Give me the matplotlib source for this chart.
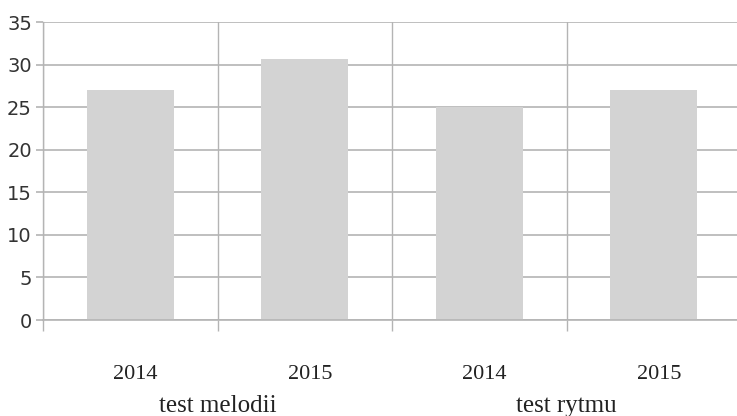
import matplotlib
matplotlib.use('Agg')

import numpy as np
import matplotlib.pyplot as plt
import matplotlib.transforms as mtransforms

# Chart data
groups = ['test melodii', 'test rytmu']
years = ['2014', '2015', '2014', '2015']
values = [27.0, 30.7, 25.0, 27.0]
y_ticks = [0, 5, 10, 15, 20, 25, 30, 35]

GRID = '#b4b4b4'
BAR = '#d3d3d3'

fig = plt.figure(figsize=(7.37, 4.16), dpi=100)
ax = fig.add_axes([43 / 737, 96 / 416, 694 / 737, 298 / 416])

x = np.arange(len(values))
ax.bar(x, values, width=0.5, color=BAR, zorder=2)

# Axis limits, a category slot is ~174.5 px wide
ax.set_xlim(-0.5, -0.5 + 694 / 174.5)
ax.set_ylim(0, 35)

# Horizontal grid from the y ticks
ax.set_yticks(y_ticks)
ax.set_yticklabels([str(v) for v in y_ticks],
                   family=['Liberation Sans Narrow', 'DejaVu Sans Condensed', 'DejaVu Sans'],
                   fontsize=14, color='#333333')
ax.tick_params(axis='y', length=5, width=1.2, color=GRID, pad=3)
ax.yaxis.grid(True, color=GRID, linewidth=1.2, zorder=0)

# Vertical separators between categories
ax.set_xticks(np.arange(len(values)) - 0.5)
ax.set_xticklabels([])
ax.tick_params(axis='x', length=8, width=1.0, color=GRID)
ax.xaxis.grid(True, color=GRID, linewidth=1.0, zorder=0)

for side in ['top', 'right']:
    ax.spines[side].set_visible(False)
ax.spines['left'].set_color(GRID)
ax.spines['left'].set_linewidth(1.0)
ax.spines['bottom'].set_color(GRID)
ax.spines['bottom'].set_linewidth(1.2)
ax.set_axisbelow(True)

# Year labels and group labels below the plot
trans = mtransforms.blended_transform_factory(ax.transData, fig.transFigure)
serif = ['Liberation Serif', 'DejaVu Serif']
for xi, yr in zip(x, years):
    ax.text(xi + 0.03, 1 - 379 / 416, yr, transform=trans, ha='center', va='baseline',
            family=serif, fontsize=16, color='#222222')
for gi, name in enumerate(groups):
    ax.text(gi * 2 + 0.5, 1 - 412 / 416, name, transform=trans, ha='center', va='baseline',
            family=serif, fontsize=18, color='#222222')

fig.savefig('out.png', dpi=100)
plt.close(fig)
